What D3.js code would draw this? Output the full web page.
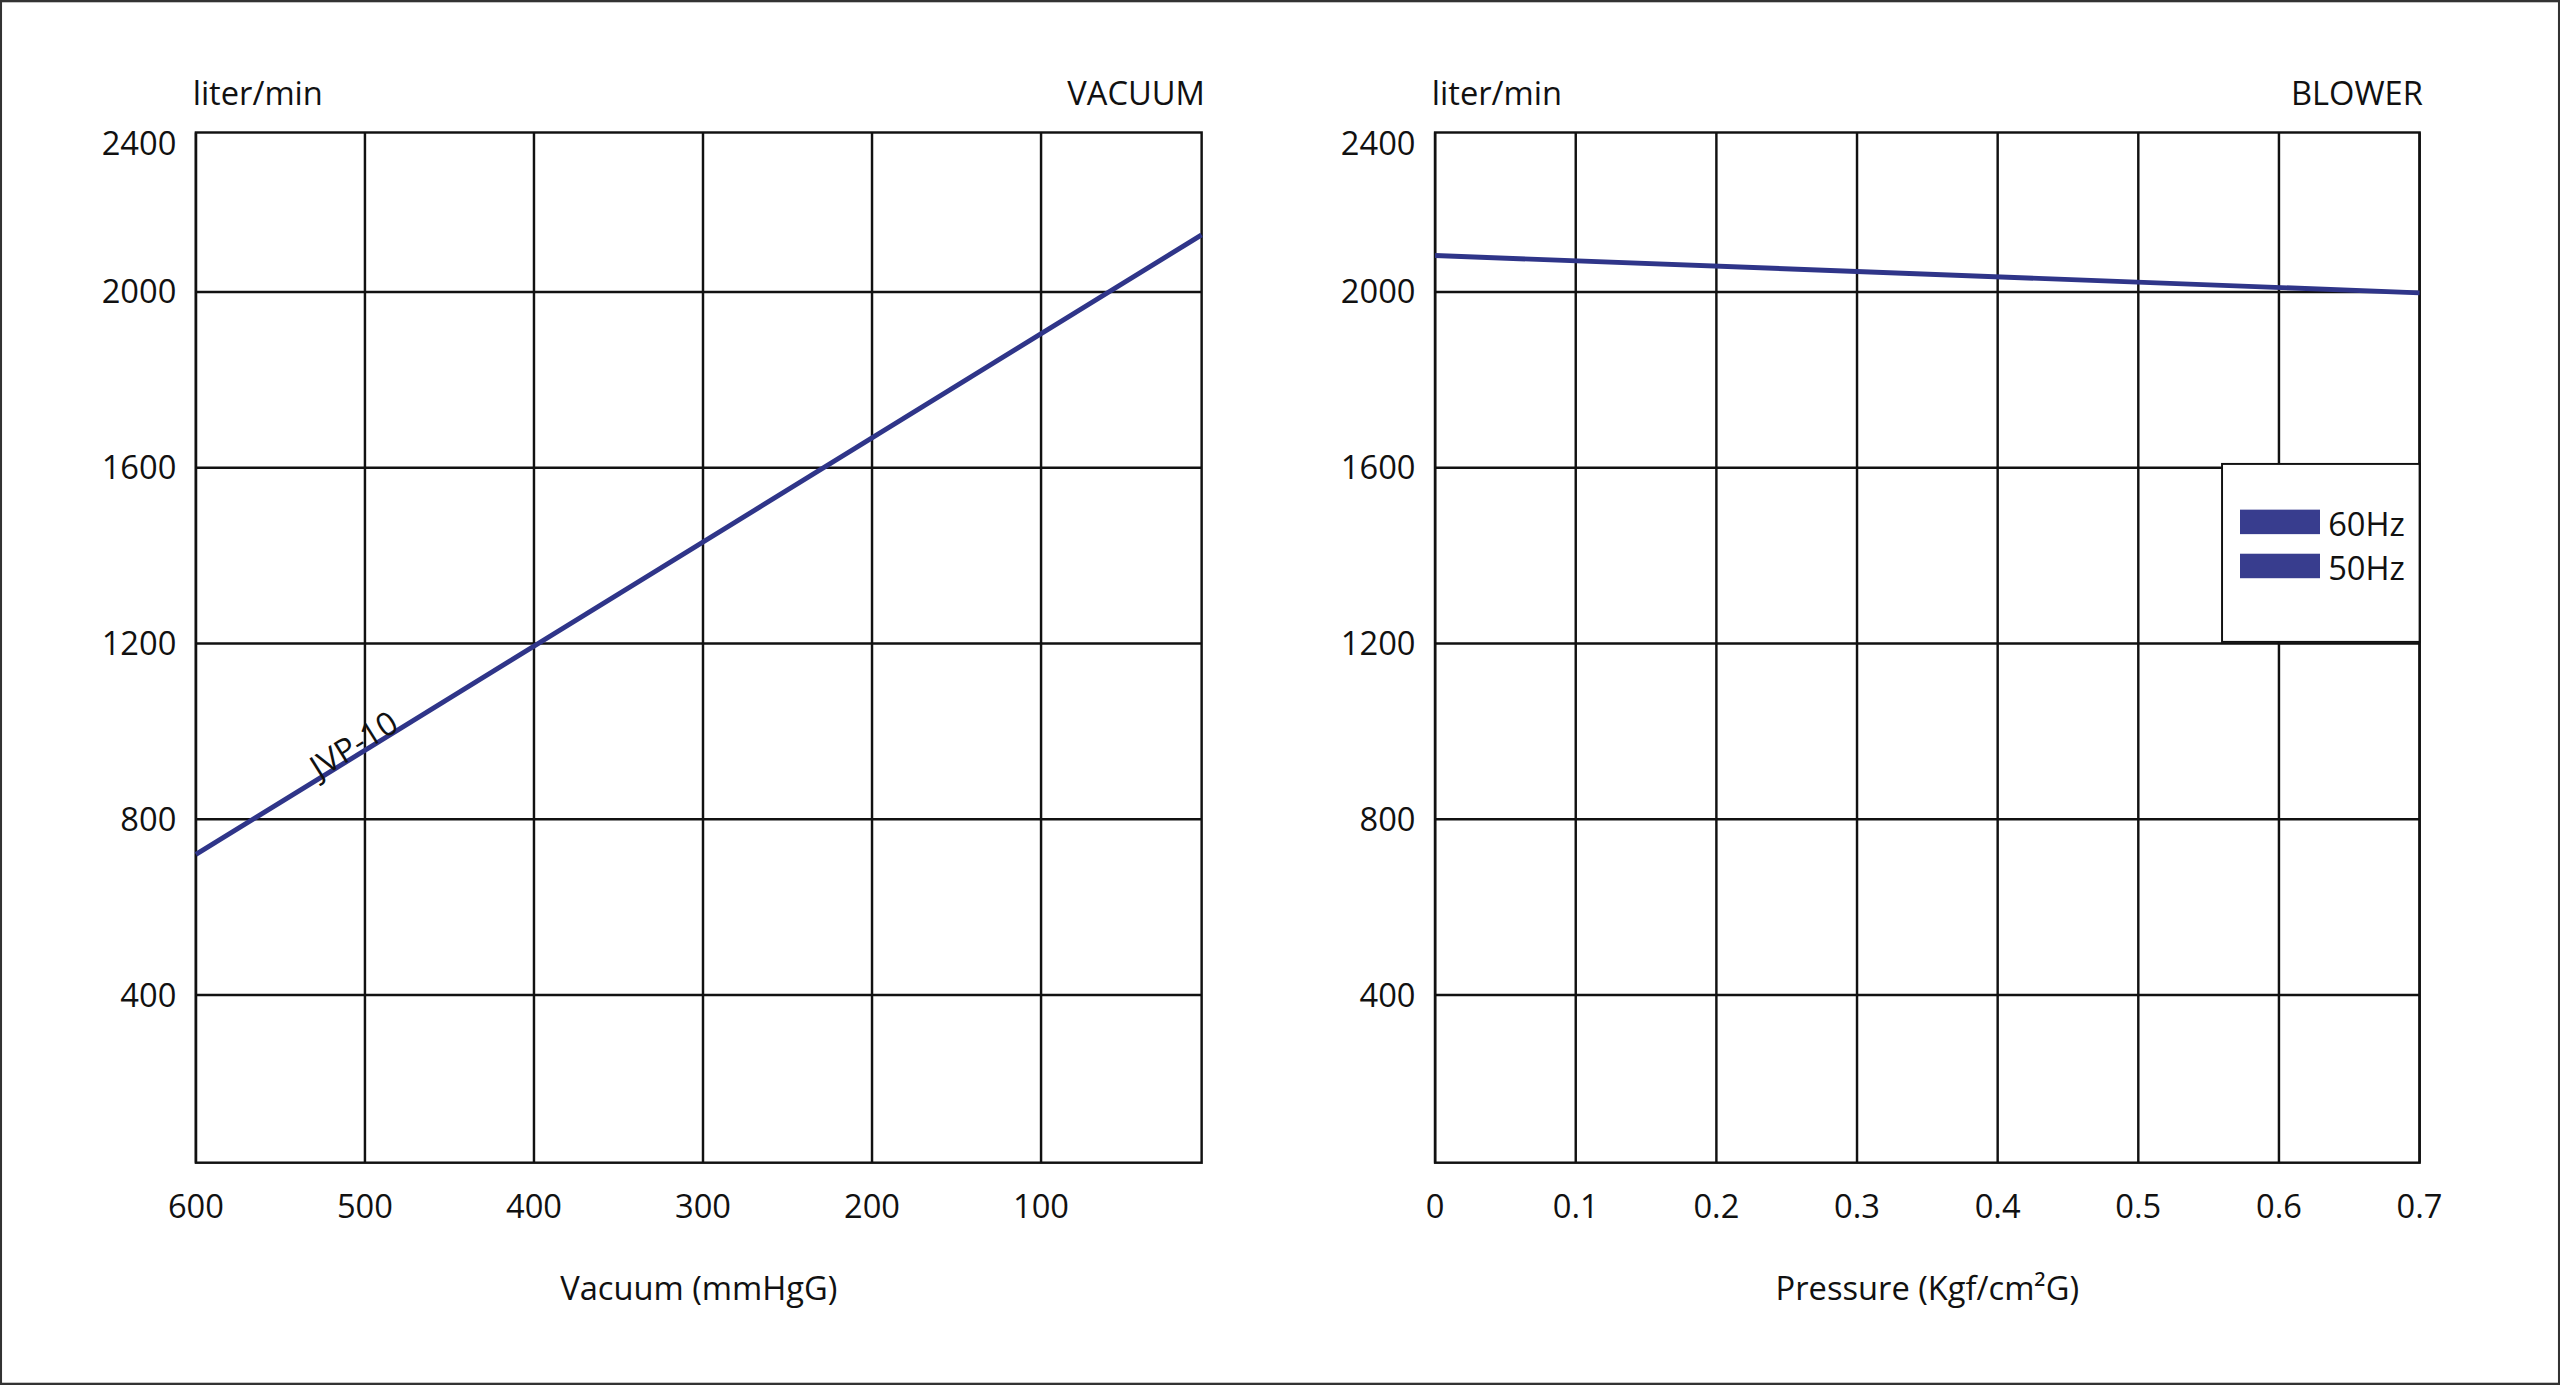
<!DOCTYPE html>
<html><head><meta charset="utf-8">
<script src="https://cdn.jsdelivr.net/npm/d3@7"></script>
<style>body{margin:0;background:#fff}text{font-family:"Open Sans",sans-serif;fill:#111}</style>
</head><body>
<svg id="c" width="2560" height="1385" viewBox="0 0 1568 848"></svg>
<script>
// data
const yTicks = [400, 800, 1200, 1600, 2000, 2400];
const vacTicks = [600, 500, 400, 300, 200, 100];
const vacLine = [[600, 720], [5, 2130]];
const presTicks = [0, 0.1, 0.2, 0.3, 0.4, 0.5, 0.6, 0.7];
const presLine = [[0, 2083], [0.7, 1998]];
const legendItems = ['60Hz', '50Hz'];
const lineColor = '#2f3589';

const svg = d3.select('#c');
svg.append('rect').attr('x', 0.5).attr('y', 0.5).attr('width', 1567).attr('height', 847)
    .attr('fill', 'none').attr('stroke', '#333').attr('stroke-width', 1.5);

function panel(opt) {
    const x = d3.scaleLinear().domain(opt.xDomain).range([opt.left, opt.right]);
    const y = d3.scaleLinear().domain([0, 2400]).range([717, 71]);
    const top = 81, bottom = 712;
    const g = svg.append('g');

    g.selectAll('.h').data(yTicks.filter(d => d < 2400)).join('line')
        .attr('x1', opt.left).attr('x2', opt.right)
        .attr('y1', d => y(d)).attr('y2', d => y(d))
        .attr('stroke', '#111').attr('stroke-width', 1.5);
    g.selectAll('.v').data(opt.xTicks).join('line')
        .attr('x1', d => x(d)).attr('x2', d => x(d))
        .attr('y1', top).attr('y2', bottom)
        .attr('stroke', '#111').attr('stroke-width', 1.5);
    g.append('rect').attr('x', opt.left).attr('y', top)
        .attr('width', opt.right - opt.left).attr('height', bottom - top)
        .attr('fill', 'none').attr('stroke', '#111').attr('stroke-width', 1.5);

    g.selectAll('.yl').data(yTicks).join('text')
        .attr('x', opt.left - 12).attr('y', d => d === 2400 ? 95 : y(d) + 7)
        .attr('text-anchor', 'end').attr('font-size', 20).text(d => d);
    g.selectAll('.xl').data(opt.xTicks).join('text')
        .attr('x', d => x(d)).attr('y', 746)
        .attr('text-anchor', 'middle').attr('font-size', 20).text(d => d);

    g.append('text').attr('x', opt.left - 2).attr('y', 64).attr('font-size', 20).text('liter/min');
    g.append('text').attr('x', opt.right + 2).attr('y', 64).attr('text-anchor', 'end')
        .attr('font-size', 20).text(opt.title);
    g.append('text').attr('x', (opt.left + opt.right) / 2).attr('y', 796)
        .attr('text-anchor', 'middle').attr('font-size', 20).text(opt.xLabel);

    g.append('path').datum(opt.line)
        .attr('d', d3.line().x(d => x(d[0])).y(d => y(d[1])))
        .attr('fill', 'none').attr('stroke', lineColor).attr('stroke-width', 3);
    return { g, x, y };
}

const left = panel({ left: 120, right: 736, xDomain: [600, 5], xTicks: vacTicks,
    title: 'VACUUM', xLabel: 'Vacuum (mmHgG)', line: vacLine });
left.g.append('text').attr('transform', `translate(${left.x(527)},${left.y(890)}) rotate(-32)`)
    .attr('font-size', 20).text('JVP-10');

const right = panel({ left: 879, right: 1482, xDomain: [0, 0.7], xTicks: presTicks,
    title: 'BLOWER', xLabel: 'Pressure (Kgf/cm²G)', line: presLine });
const lg = right.g.append('g');
lg.append('rect').attr('x', 1361).attr('y', 284).attr('width', 121).attr('height', 109)
    .attr('fill', '#fff').attr('stroke', '#111').attr('stroke-width', 1.2);
lg.selectAll('.sw').data(legendItems).join('rect')
    .attr('x', 1372).attr('y', (d, i) => 312 + i * 27).attr('width', 49).attr('height', 15)
    .attr('fill', '#383d8e');
lg.selectAll('.lt').data(legendItems).join('text')
    .attr('x', 1426).attr('y', (d, i) => 328 + i * 27).attr('font-size', 20).text(d => d);
</script>
</body></html>
